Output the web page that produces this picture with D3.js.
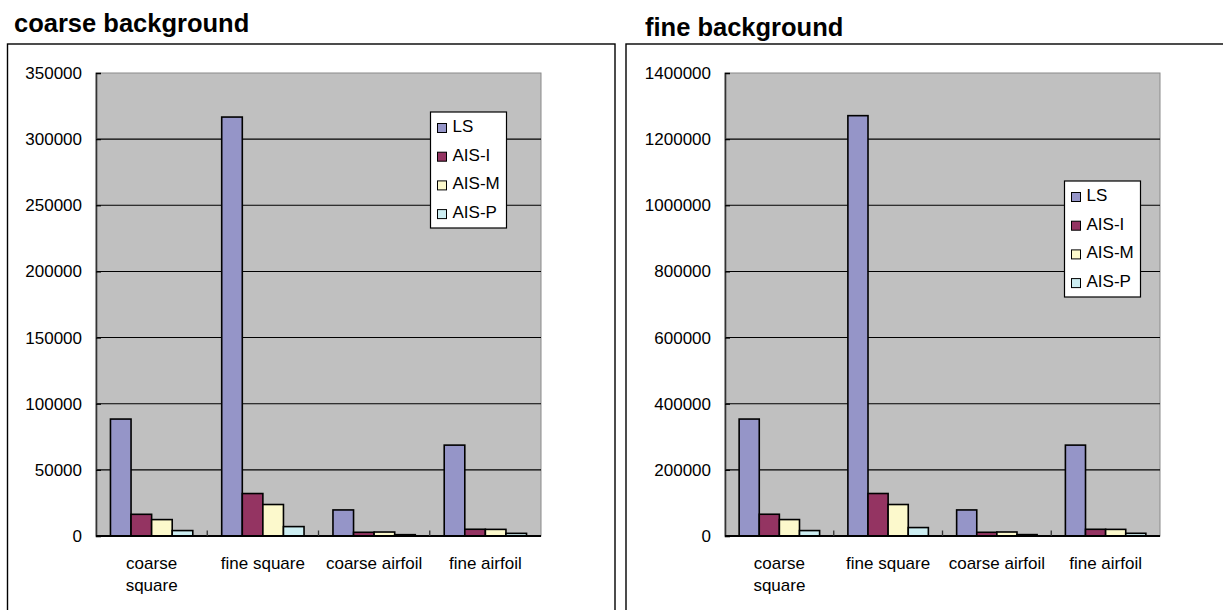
<!DOCTYPE html>
<html>
<head>
<meta charset="utf-8">
<script src="https://cdn.jsdelivr.net/npm/d3@7/dist/d3.min.js"></script>
<style>
  html, body { margin: 0; padding: 0; background: #fff; }
  svg { display: block; }
  text { font-family: "Liberation Sans", Arial, sans-serif; fill: #000; }
</style>
</head>
<body>
<svg id="chart" width="1223" height="610"></svg>
<script>
// Categories and series
const categories = ["coarse square", "fine square", "coarse airfoil", "fine airfoil"];
const seriesNames = ["LS", "AIS-I", "AIS-M", "AIS-P"];
const seriesColors = ["#9595C8", "#943462", "#FCF9CC", "#CDEEF2"];

// Coarse background counts
const coarseLS   = [88400, 316700, 19700, 68700];
const coarseAisI = [16400, 32100, 2800, 5100];
const coarseAisM = [12400, 23800, 3000, 5000];
const coarseAisP = [4100, 7100, 1000, 2000];
const coarseTicks = [0, 50000, 100000, 150000, 200000, 250000, 300000, 350000];

// Fine background counts
const fineLS   = [353600, 1271000, 78800, 274800];
const fineAisI = [65800, 128500, 11200, 20300];
const fineAisM = [49700, 95200, 12100, 20000];
const fineAisP = [16400, 25500, 4200, 8200];
const fineTicks = [0, 200000, 400000, 600000, 800000, 1000000, 1200000, 1400000];

const panels = [
  {
    title: "coarse background", titleX: 14, titleY: 31.5,
    box: { x: 7.5, y: 44, w: 607.5, h: 600 },
    plot: { x: 96, y: 73, w: 445, h: 463 },
    series: [coarseLS, coarseAisI, coarseAisM, coarseAisP],
    ticks: coarseTicks,
    legend: { x: 430.5, y: 112 }
  },
  {
    title: "fine background", titleX: 645, titleY: 35.5,
    box: { x: 626, y: 44, w: 700, h: 600 },
    plot: { x: 725, y: 73, w: 435, h: 463 },
    series: [fineLS, fineAisI, fineAisM, fineAisP],
    ticks: fineTicks,
    legend: { x: 1064.5, y: 181 }
  }
];

const svg = d3.select("#chart");

panels.forEach(p => {
  const g = svg.append("g");

  // outer chart frame
  g.append("rect")
    .attr("x", p.box.x).attr("y", p.box.y)
    .attr("width", p.box.w).attr("height", p.box.h)
    .attr("fill", "#fff").attr("stroke", "#000").attr("stroke-width", 1.4);

  // title above the frame
  g.append("text")
    .attr("x", p.titleX).attr("y", p.titleY)
    .attr("font-size", 25.5).attr("font-weight", "bold")
    .text(p.title);

  const x0 = d3.scaleBand().domain(categories)
    .range([p.plot.x, p.plot.x + p.plot.w]);
  const bw = x0.bandwidth();
  const inset = bw * 0.13;
  const x1 = d3.scaleBand().domain(seriesNames).range([inset, bw - inset]);
  const yMax = p.ticks[p.ticks.length - 1];
  const y = d3.scaleLinear().domain([0, yMax])
    .range([p.plot.y + p.plot.h, p.plot.y]);

  // plot area
  g.append("rect")
    .attr("x", p.plot.x).attr("y", p.plot.y)
    .attr("width", p.plot.w).attr("height", p.plot.h)
    .attr("fill", "#C0C0C0").attr("stroke", "#8a8a8a").attr("stroke-width", 1);

  // horizontal gridlines
  g.append("g").selectAll("line")
    .data(p.ticks.filter(t => t > 0 && t < yMax))
    .join("line")
    .attr("x1", p.plot.x).attr("x2", p.plot.x + p.plot.w)
    .attr("y1", d => y(d)).attr("y2", d => y(d))
    .attr("stroke", "#000").attr("stroke-width", 1.1);

  // bars
  const rows = categories.map((c, i) => ({
    cat: c,
    vals: seriesNames.map((s, j) => ({ s, j, v: p.series[j][i] }))
  }));
  const grp = g.append("g").selectAll("g")
    .data(rows).join("g")
    .attr("transform", d => `translate(${x0(d.cat)},0)`);
  grp.selectAll("rect")
    .data(d => d.vals).join("rect")
    .attr("x", d => x1(d.s))
    .attr("width", x1.bandwidth())
    .attr("y", d => y(d.v))
    .attr("height", d => y(0) - y(d.v))
    .attr("fill", d => seriesColors[d.j])
    .attr("stroke", "#000").attr("stroke-width", 1.6);

  // y axis
  const yAxis = d3.axisLeft(y).tickValues(p.ticks)
    .tickSize(-5).tickPadding(14).tickFormat(d3.format("d"));
  const ya = g.append("g")
    .attr("transform", `translate(${p.plot.x},0)`)
    .call(yAxis);
  ya.select(".domain").attr("stroke", "#333").attr("stroke-width", 1.6);
  ya.selectAll(".tick line").attr("stroke", "#000").attr("stroke-width", 1.2);
  ya.selectAll(".tick text")
    .attr("font-size", 17)
    .attr("font-family", '"Liberation Sans", Arial, sans-serif')
    .attr("fill", "#000");

  // x axis baseline and category boundary ticks
  const base = y(0);
  g.append("line")
    .attr("x1", p.plot.x).attr("x2", p.plot.x + p.plot.w)
    .attr("y1", base).attr("y2", base)
    .attr("stroke", "#000").attr("stroke-width", 2);
  g.append("g").selectAll("line")
    .data(categories.slice(1))
    .join("line")
    .attr("x1", d => x0(d)).attr("x2", d => x0(d))
    .attr("y1", base).attr("y2", base - 5.5)
    .attr("stroke", "#333").attr("stroke-width", 1.3);

  // category labels, wrapped when wider than the band allows
  categories.forEach(c => {
    const cx = x0(c) + bw / 2;
    const t = g.append("text")
      .attr("x", cx).attr("y", 568.5)
      .attr("text-anchor", "middle")
      .attr("font-size", 17)
      .text(c);
    if (t.node().getComputedTextLength() > 103) {
      const words = c.split(" ");
      t.text(null);
      words.forEach((w, k) => {
        t.append("tspan").attr("x", cx).attr("y", 568.5 + k * 22.2).text(w);
      });
    }
  });

  // legend
  const lg = g.append("g").attr("transform", `translate(${p.legend.x},${p.legend.y})`);
  lg.append("rect")
    .attr("width", 76).attr("height", 116)
    .attr("fill", "#fff").attr("stroke", "#000").attr("stroke-width", 1.2);
  seriesNames.forEach((s, i) => {
    lg.append("rect")
      .attr("x", 7).attr("y", 11.5 + i * 28.7)
      .attr("width", 9).attr("height", 9)
      .attr("fill", seriesColors[i]).attr("stroke", "#000").attr("stroke-width", 1);
    lg.append("text")
      .attr("x", 22).attr("y", 20 + i * 28.7)
      .attr("font-size", 17)
      .text(s);
  });
});
</script>
</body>
</html>
